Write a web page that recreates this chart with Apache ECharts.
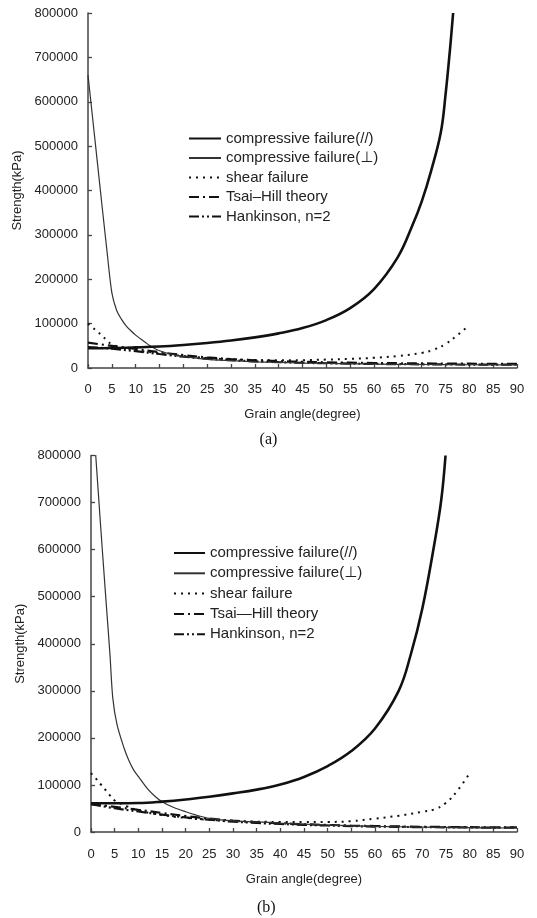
<!DOCTYPE html>
<html>
<head>
<meta charset="utf-8">
<script src="https://cdn.jsdelivr.net/npm/echarts@6/dist/echarts.min.js"></script>
<style>
html,body{margin:0;padding:0;background:#fff;}
#c{width:537px;height:918px;}
</style>
</head>
<body>
<div id="c"></div>
<script>
// ---------- data (angle in degree, strength in kPa) ----------
var xTicks = {min: 0, max: 90, interval: 5};
var yTicks = {min: 0, max: 800000, interval: 100000};

var namesA = ['compressive failure(//)', 'compressive failure(\u22A5)', 'shear failure', 'Tsai\u2013Hill theory', 'Hankinson, n=2'];
var namesB = ['compressive failure(//)', 'compressive failure(\u22A5)', 'shear failure', 'Tsai\u2014Hill theory', 'Hankinson, n=2'];

// (a)
var aPar = [[0,44500],[5,45000],[10,46500],[15,48500],[20,52000],[25,56500],[30,62000],[35,69000],[40,78000],[45,90000],[50,108000],[55,135000],[60,178000],[65,250000],[68,320000],[70,375000],[72,445000],[74,530000],[75,615000],[76,725000],[76.6,800000]];
var aPerp = [[0,660000],[1,560000],[2,460000],[3,360000],[4,262000],[5,170000],[6,130000],[7,110000],[8,95000],[9,84000],[10,74000],[11,66000],[12,58000],[13,50000],[14,44000],[15,39000],[17.5,31000],[20,26000],[25,19500],[30,16500],[35,14000],[40,12500],[45,11200],[50,10200],[55,9400],[60,8800],[70,7900],[80,7300],[90,7000]];
var aShear = [[0,100000],[1,91000],[2,82000],[3,72000],[4,62000],[5,53000],[7.5,45000],[10,40000],[15,33000],[20,27000],[25,22500],[30,19500],[35,18000],[40,17200],[45,17500],[50,19000],[55,20500],[60,23000],[65,27000],[70,34000],[72.5,41000],[75,54000],[77.5,74000],[80,97000]];
var aTsai = [[0,57000],[5,50000],[10,43000],[15,35500],[20,29000],[25,24000],[30,20000],[35,17500],[40,15500],[45,14000],[50,12800],[55,12000],[60,11300],[65,10800],[70,10300],[75,10000],[80,9700],[85,9500],[90,9400]];
var aHank = [[0,47000],[5,43500],[10,38000],[15,31500],[20,25500],[25,21000],[30,17500],[35,15000],[40,13200],[45,11800],[50,10700],[55,9900],[60,9200],[65,8700],[70,8300],[75,8000],[80,7800],[85,7700],[90,7600]];

// (b)
var bPar = [[0,61000],[5,61000],[10,61500],[15,64500],[20,69000],[25,75000],[30,82000],[35,90000],[40,101000],[45,117000],[50,140000],[55,172000],[60,220000],[65,300000],[67.5,375000],[70,475000],[72.5,610000],[74,706000],[74.9,800000]];
var bPerp = [[0,940000],[1,800000],[2,655000],[3,515000],[4,378000],[4.6,285000],[5.5,228000],[7,178000],[8,152000],[9,132000],[10,118000],[12,91000],[13.5,76000],[15,64500],[17.5,52000],[20,43000],[22.5,35000],[25,29000],[30,23500],[35,21500],[40,19000],[45,16800],[50,14800],[55,13200],[60,12000],[70,10500],[80,9300],[90,8500]];
var bShear = [[0,125000],[1,114000],[2,102000],[3,90000],[4,78000],[5,67000],[7.5,55000],[10,46000],[15,36000],[20,30000],[25,26000],[30,23500],[35,22000],[40,21300],[45,21000],[50,21300],[55,23000],[60,28500],[65,34500],[70,43000],[72.5,48000],[75,62000],[77.5,89000],[80,125000]];
var bTsai = [[0,59000],[5,53500],[10,47000],[15,40500],[20,34000],[25,28500],[30,24000],[35,21000],[40,18500],[45,16500],[50,15000],[55,13700],[60,12600],[65,11800],[70,11100],[75,10600],[80,10200],[85,10000],[90,9900]];
var bHank = [[0,59000],[5,50500],[10,43500],[15,37000],[20,31000],[25,26000],[30,22000],[35,19200],[40,17000],[45,15200],[50,13800],[55,12600],[60,11600],[65,10900],[70,10300],[75,9900],[80,9600],[85,9400],[90,9300]];

// ---------- styles ----------
var FONT = '"Liberation Sans", "DejaVu Sans", Arial, sans-serif';
var styles = [
  {color:'#111', width:2.6, type:'solid', smooth:0.4},
  {color:'#333', width:1.2, type:'solid', smooth:0.3},
  {color:'#111', width:2, type:[2,5], smooth:0.4},
  {color:'#111', width:2.2, type:[10,4,2,4], smooth:0.4},
  {color:'#111', width:2.2, type:[10,3,2,3,2,3], smooth:0.4}
];

function mkSeries(names, datas, idx){
  return datas.map(function(d, i){
    return {
      name: names[i], type:'line', xAxisIndex: idx, yAxisIndex: idx,
      data: d, symbol:'none', smooth: styles[i].smooth, clip:true,
      lineStyle: {color: styles[i].color, width: styles[i].width, type: styles[i].type},
      itemStyle: {color: styles[i].color},
      z: 5 - i
    };
  });
}

function xAx(gi){
  return {
    type:'value', gridIndex: gi, min: xTicks.min, max: xTicks.max, interval: xTicks.interval,
    name:'Grain angle(degree)', nameLocation:'middle', nameGap: gi===0 ? 40 : 41,
    nameTextStyle:{fontFamily:FONT, fontSize:13, color:'#222'},
    axisLine:{show:true, lineStyle:{color:'#444', width:1.5}},
    axisTick:{show:true, inside:true, length:4, lineStyle:{color:'#444', width:1.3}},
    axisLabel:{fontFamily:FONT, fontSize:13, color:'#222', margin: gi===0 ? 15 : 16, showMaxLabel:true},
    splitLine:{show:false}
  };
}
function yAx(gi){
  return {
    type:'value', gridIndex: gi, min: yTicks.min, max: yTicks.max, interval: yTicks.interval,
    name:'Strength(kPa)', nameLocation:'middle', nameGap: 62,
    nameTextStyle:{fontFamily:FONT, fontSize:13, color:'#222'},
    axisLine:{show:true, lineStyle:{color:'#444', width:1.5}},
    axisTick:{show:true, inside:true, length:4, lineStyle:{color:'#444', width:1.3}},
    axisLabel:{fontFamily:FONT, fontSize:13, color:'#222', margin: 10, formatter: function(v){ return String(v); }},
    splitLine:{show:false}
  };
}

var legendBase = {
  orient:'vertical', itemHeight:14, selectedMode:false,
  itemStyle:{opacity:0},
  textStyle:{fontFamily:FONT, fontSize:15, lineHeight:15, color:'#222'}
};

var chart = echarts.init(document.getElementById('c'), null, {renderer:'canvas'});
chart.setOption({
  animation:false,
  backgroundColor:'#fff',
  grid:[
    {left:88, top:13, width:429, height:355},
    {left:91, top:455.5, width:426, height:376.5}
  ],
  xAxis:[xAx(0), xAx(1)],
  yAxis:[yAx(0), yAx(1)],
  legend:[
    Object.assign({}, legendBase, {left:183, top:126, itemWidth:32, itemGap:4.5, data: namesA}),
    Object.assign({}, legendBase, {left:168, top:540.5, itemWidth:31, itemGap:5.3, data: namesB})
  ],
  title:[
    {text:'(a)', left:'center', top:427, textStyle:{fontFamily:'"Liberation Serif", "DejaVu Serif", serif', fontSize:16, fontWeight:'normal', color:'#111'}},
    {text:'(b)', left:252, top:895, textStyle:{fontFamily:'"Liberation Serif", "DejaVu Serif", serif', fontSize:16, fontWeight:'normal', color:'#111'}}
  ],
  series: mkSeries(namesA, [aPar, aPerp, aShear, aTsai, aHank], 0)
    .concat(mkSeries(namesB, [bPar, bPerp, bShear, bTsai, bHank], 1))
});
</script>
</body>
</html>
